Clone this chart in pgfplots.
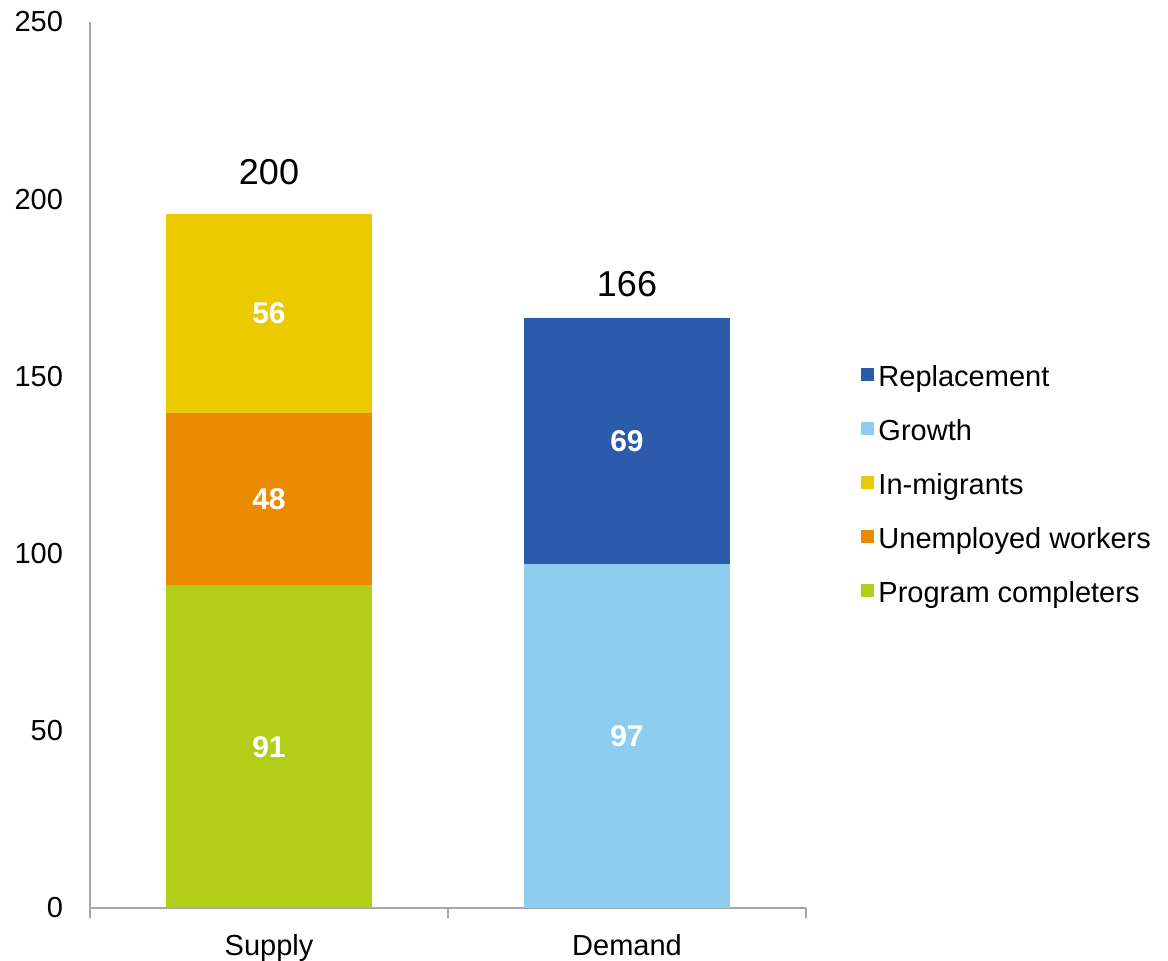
\documentclass[border=0pt]{standalone}
\usepackage{pgfplots}
\pgfplotsset{compat=1.18}
\usepackage{fontspec}
\setmainfont{Liberation Sans}
\definecolor{cProg}{HTML}{B2CE18}
\definecolor{cUnemp}{HTML}{E98A00}
\definecolor{cMigr}{HTML}{EBCB00}
\definecolor{cGrow}{HTML}{8ECDF0}
\definecolor{cRepl}{HTML}{2B5BAA}
\definecolor{axgray}{HTML}{A6A6A6}
\pgfplotsset{sqlegend/.style={legend image code/.code={\fill[##1,draw=none] (0pt,-1.9pt) rectangle (6.7pt,4.8pt);}}}
\begin{document}
\begin{tikzpicture}
\begin{axis}[
  at={(0,0)}, anchor=south west,
  scale only axis, width=358pt, height=443pt,
  ybar stacked, bar width=103pt,
  xmin=-0.5, xmax=1.5, ymin=0, ymax=250,
  xtick={0,1}, xticklabels={Supply,Demand},
  minor xtick={-0.5,0.5,1.5},
  ytick={0,50,100,150,200,250},
  axis x line*=bottom, axis y line*=left,
  axis line style={-, draw=axgray, line width=1.2pt},
  tick align=outside,
  major x tick style={draw=none},
  minor x tick style={draw=axgray, line width=1.2pt},
  minor tick length=5pt,
  major tick length=0pt,
  y tick style={draw=none},
  ticklabel style={font=\fontsize{14.5}{16}\selectfont},
  yticklabel style={xshift=-10pt},
  xticklabel style={yshift=-9.5pt},
  /pgf/number format/assume math mode=true,
  reverse legend,
  legend cell align=left,
  legend style={at={(1.068,0.477)}, anchor=west, draw=none, fill=none,
    font=\fontsize{14.5}{16}\selectfont, row sep=11pt},
]
\addplot[fill=cProg, draw=none, sqlegend] coordinates {(0,91.1) (1,0)};
\addlegendentry{Program completers}
\addplot[fill=cUnemp, draw=none, sqlegend] coordinates {(0,48.6) (1,0)};
\addlegendentry{Unemployed workers}
\addplot[fill=cMigr, draw=none, sqlegend] coordinates {(0,56.1) (1,0)};
\addlegendentry{In-migrants}
\addplot[fill=cGrow, draw=none, sqlegend] coordinates {(0,0) (1,97.1)};
\addlegendentry{Growth}
\addplot[fill=cRepl, draw=none, sqlegend] coordinates {(0,0) (1,69.4)};
\addlegendentry{Replacement}
\coordinate (v91) at (axis cs:0,45.5);
\coordinate (v48) at (axis cs:0,115.4);
\coordinate (v56) at (axis cs:0,167.7);
\coordinate (v97) at (axis cs:1,48.5);
\coordinate (v69) at (axis cs:1,131.8);
\coordinate (t200) at (axis cs:0,207.7);
\coordinate (t166) at (axis cs:1,176);
\end{axis}
\begin{scope}[every node/.style={font=\bfseries\fontsize{15}{17}\selectfont, text=white}]
\node at (v91) {91};
\node at (v48) {48};
\node at (v56) {56};
\node at (v97) {97};
\node at (v69) {69};
\end{scope}
\node[font=\fontsize{18}{20}\selectfont] at (t200) {200};
\node[font=\fontsize{18}{20}\selectfont] at (t166) {166};
\pgfresetboundingbox
\path[use as bounding box] (-45pt,-26.5pt) rectangle (539pt,454pt);
\end{tikzpicture}
\end{document}
